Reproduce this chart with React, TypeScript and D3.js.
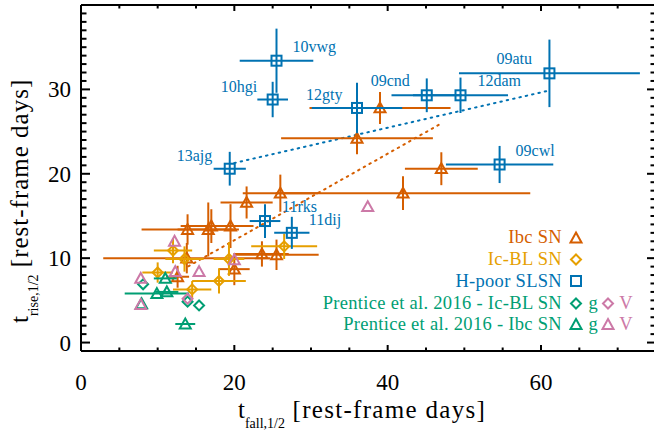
import React from "react";
import * as d3 from "d3";

// Half-light timescales (rest-frame days)
// Ibc SNe
const ibcFall = [36.0, 39.0, 47.0, 42.0, 26.0, 21.6, 13.9, 16.6, 17.0, 19.5, 13.8, 20.0, 23.6, 25.5, 12.6];
const ibcRise = [24.2, 27.8, 20.6, 17.7, 17.7, 16.6, 13.4, 13.4, 13.8, 13.8, 10.0, 8.7, 10.5, 10.4, 7.8];
const ibcFallErr = [9.9, 9.2, 4.75, 16.6, 4.9, 3.4, 6.0, 4.0, 4.0, 3.0, 10.9, 2.0, 3.5, 5.5, 1.5];
const ibcRiseErr = [1.9, 1.9, 1.95, 2.0, 2.2, 1.9, 1.8, 3.2, 2.0, 2.6, 1.8, 1.9, 1.5, 1.8, 1.3];

// Ic-BL SNe
const iclFall = [12.0, 13.5, 10.0, 14.5, 18.0, 19.3, 26.5];
const iclRise = [10.9, 9.9, 8.3, 6.3, 7.3, 9.9, 11.4];
const iclFallErr = [2.5, 2.5, 2.0, 2.5, 3.5, 2.0, 4.3];
const iclRiseErr = [1.5, 1.5, 1.2, 1.0, 1.5, 2.0, 1.5];

// H-poor SLSNe
const slsnNames = ["10vwg", "10hgi", "12gty", "13ajg", "09cnd", "12dam", "09atu", "09cwl", "11rks", "11dij"];
const slsnFall = [25.5, 25.0, 36.0, 19.4, 45.1, 49.5, 61.1, 54.6, 24.0, 27.5];
const slsnRise = [33.4, 28.8, 27.8, 20.6, 29.3, 29.3, 31.9, 21.1, 14.4, 13.0];
const slsnFallErr = [4.8, 2.0, 5.9, 2.1, 4.6, 6.2, 11.8, 7.0, 2.0, 2.3];
const slsnRiseErr = [3.8, 2.1, 3.0, 2.0, 2.0, 2.1, 4.0, 2.2, 2.0, 1.9];
// label offsets from each SLSN marker, in px
const slsnLabelDx = [16, -52, -51, -53, -56, 17, -53, 16, 17, 17];
const slsnLabelDy = [-9, -8, -8, -8, -9, -9, -9, -8, -9, -8];

// Prentice et al. 2016
const pIclGFall = [8.1, 13.9, 15.4];
const pIclGRise = [6.9, 4.85, 4.4];
const pIclVFall = [13.9];
const pIclVRise = [5.2];
const pIbcGFall = [11.0, 9.9, 11.2, 13.6, 7.9];
const pIbcGRise = [7.6, 5.8, 6.0, 2.2, 4.6];
const pIbcGFallErr = [1.5, 4.2, 1.5, 1.3, 0];
const pIbcVFall = [12.2, 12.3, 15.4, 20.0, 7.8, 7.8, 37.4];
const pIbcVRise = [12.0, 8.4, 8.4, 9.8, 7.6, 4.5, 16.1];

// linear fits
const slsnFit = { x0: 20.0, x1: 61.0, a: 17.1, b: 0.209 };
const ibcFit = { x0: 14.0, x1: 47.0, a: 1.86, b: 0.513 };

const xTicks = [0, 20, 40, 60];
const yTicks = [0, 10, 20, 30];

const C_IBC = "#D55E00";
const C_ICL = "#E69F00";
const C_SLSN = "#0072B2";
const C_G = "#009E73";
const C_V = "#CC79A7";

const W = 654;
const H = 431;
const FONT = "'Liberation Serif', 'DejaVu Serif', serif";

const x = d3.scaleLinear().domain([0, 75]).range([81, 656]);
const y = d3.scaleLinear().domain([-1, 40]).range([351, 5]);

const tri = (cx: number, cy: number, s = 5.5) =>
  `M${cx},${cy - s} L${cx + s},${cy + s * 0.8} L${cx - s},${cy + s * 0.8} Z`;
const dia = (cx: number, cy: number, s = 5) =>
  `M${cx},${cy - s} L${cx + s},${cy} L${cx},${cy + s} L${cx - s},${cy} Z`;

type Pt = { fx: number; ry: number; fe: number; re: number };
const zip = (f: number[], r: number[], fe?: number[], re?: number[]): Pt[] =>
  f.map((v, i) => ({ fx: v, ry: r[i], fe: fe ? fe[i] : 0, re: re ? re[i] : 0 }));

function ErrBars({ pts, color }: { pts: Pt[]; color: string }) {
  return (
    <g stroke={color} strokeWidth={2} fill="none">
      {pts.map((p, i) => (
        <g key={i}>
          {p.fe > 0 && <line x1={x(p.fx - p.fe)} x2={x(p.fx + p.fe)} y1={y(p.ry)} y2={y(p.ry)} />}
          {p.re > 0 && <line x1={x(p.fx)} x2={x(p.fx)} y1={y(p.ry - p.re)} y2={y(p.ry + p.re)} />}
        </g>
      ))}
    </g>
  );
}

function Markers({ pts, color, shape }: { pts: Pt[]; color: string; shape: "tri" | "dia" | "sq" }) {
  return (
    <g stroke={color} strokeWidth={2} fill="none">
      {pts.map((p, i) => {
        const cx = x(p.fx);
        const cy = y(p.ry);
        if (shape === "sq") return <rect key={i} x={cx - 5} y={cy - 5} width={10} height={10} />;
        return <path key={i} d={shape === "tri" ? tri(cx, cy) : dia(cx, cy)} />;
      })}
    </g>
  );
}

export default function App() {
  const ibc = zip(ibcFall, ibcRise, ibcFallErr, ibcRiseErr);
  const icl = zip(iclFall, iclRise, iclFallErr, iclRiseErr);
  const slsn = zip(slsnFall, slsnRise, slsnFallErr, slsnRiseErr);
  const pIclG = zip(pIclGFall, pIclGRise);
  const pIclV = zip(pIclVFall, pIclVRise);
  const pIbcG = zip(pIbcGFall, pIbcGRise, pIbcGFallErr);
  const pIbcV = zip(pIbcVFall, pIbcVRise);

  const minorX = d3.range(0, 76, 5);
  const minorY = d3.range(-1, 41, 1);
  const [x0, x1] = x.range();
  const [y0, y1] = y.range();

  const fitLine = (f: { x0: number; x1: number; a: number; b: number }) => ({
    x1: x(f.x0), y1: y(f.a + f.b * f.x0), x2: x(f.x1), y2: y(f.a + f.b * f.x1),
  });
  const sf = fitLine(slsnFit);
  const bf = fitLine(ibcFit);

  const legendX = 562;
  const legendRows = [
    { label: "Ibc SN", color: C_IBC, y: 243 },
    { label: "Ic-BL SN", color: C_ICL, y: 265 },
    { label: "H-poor SLSN", color: C_SLSN, y: 287 },
    { label: "Prentice et al. 2016 - Ic-BL SN", color: C_G, y: 309 },
    { label: "Prentice et al. 2016 - Ibc SN", color: C_G, y: 330 },
  ];

  return (
    <svg width={W} height={H} style={{ position: "absolute", left: 0, top: 0, background: "#fff" }} fontFamily={FONT}>
      <rect width={W} height={H} fill="#fff" />
      {/* fits */}
      <line {...sf} stroke={C_SLSN} strokeWidth={2} strokeDasharray="1.5 5" strokeLinecap="round" />
      <line {...bf} stroke={C_IBC} strokeWidth={2} strokeDasharray="1.5 5" strokeLinecap="round" />

      <ErrBars pts={ibc} color={C_IBC} />
      <Markers pts={ibc} color={C_IBC} shape="tri" />
      <ErrBars pts={icl} color={C_ICL} />
      <Markers pts={icl} color={C_ICL} shape="dia" />
      <ErrBars pts={slsn} color={C_SLSN} />
      <Markers pts={slsn} color={C_SLSN} shape="sq" />
      <ErrBars pts={pIbcG} color={C_G} />
      <Markers pts={pIclG} color={C_G} shape="dia" />
      <Markers pts={pIbcG} color={C_G} shape="tri" />
      <Markers pts={pIclV} color={C_V} shape="dia" />
      <Markers pts={pIbcV} color={C_V} shape="tri" />

      {slsn.map((p, i) => (
        <text key={i} x={x(p.fx) + slsnLabelDx[i]} y={y(p.ry) + slsnLabelDy[i]} fill={C_SLSN} fontSize={16}>
          {slsnNames[i]}
        </text>
      ))}

      {/* axes frame */}
      <g stroke="#000" strokeWidth={2} fill="none">
        <line x1={x0} x2={x1} y1={y0} y2={y0} />
        <line x1={x0} x2={x1} y1={y1} y2={y1} />
        <line x1={x0} x2={x0} y1={y0} y2={y1} />
        <line x1={x1} x2={x1} y1={y0} y2={y1} />
        {minorX.map((v) => {
          const len = v % 20 === 0 ? 6 : 3.5;
          return (
            <g key={v}>
              <line x1={x(v)} x2={x(v)} y1={y0} y2={y0 - len} />
              <line x1={x(v)} x2={x(v)} y1={y1} y2={y1 + len} />
            </g>
          );
        })}
        {minorY.map((v) => {
          const len = v % 10 === 0 ? 9 : 5.5;
          return (
            <g key={v}>
              <line x1={x0} x2={x0 + len} y1={y(v)} y2={y(v)} />
              <line x1={x1} x2={x1 - len} y1={y(v)} y2={y(v)} />
            </g>
          );
        })}
      </g>
      {xTicks.map((v) => (
        <text key={v} x={x(v)} y={390} textAnchor="middle" fontSize={23}>{v}</text>
      ))}
      {yTicks.map((v) => (
        <text key={v} x={71} y={y(v) + 8} textAnchor="end" fontSize={23}>{v}</text>
      ))}

      {/* axis titles */}
      <text x={238} y={418} fontSize={25}>
        t<tspan fontSize={14} dy={10}>fall,1/2</tspan>
        <tspan dy={-10} letterSpacing={1.3}> [rest-frame days]</tspan>
      </text>
      <text transform="translate(28,323) rotate(-90)" fontSize={25}>
        t<tspan fontSize={14} dy={10}>rise,1/2</tspan>
        <tspan dy={-10} letterSpacing={1.0}> [rest-frame days]</tspan>
      </text>

      {/* legend */}
      {legendRows.map((r) => (
        <text key={r.label} x={legendX} y={r.y} textAnchor="end" fill={r.color} fontSize={18.5} letterSpacing={0.3}>{r.label}</text>
      ))}
      <g strokeWidth={2} fill="none">
        <path d={tri(576, 238)} stroke={C_IBC} />
        <path d={dia(576, 259.5)} stroke={C_ICL} />
        <rect x={571} y={276} width={10} height={10} stroke={C_SLSN} />
        <path d={dia(576, 303.5)} stroke={C_G} />
        <path d={dia(608, 303.5)} stroke={C_V} />
        <path d={tri(576, 324.5)} stroke={C_G} />
        <path d={tri(608, 324.5)} stroke={C_V} />
      </g>
      <text x={593} y={309} textAnchor="middle" fill={C_G} fontSize={18.5}>g</text>
      <text x={593} y={330} textAnchor="middle" fill={C_G} fontSize={18.5}>g</text>
      <text x={626} y={309} textAnchor="middle" fill={C_V} fontSize={18.5}>V</text>
      <text x={626} y={330} textAnchor="middle" fill={C_V} fontSize={18.5}>V</text>
    </svg>
  );
}
